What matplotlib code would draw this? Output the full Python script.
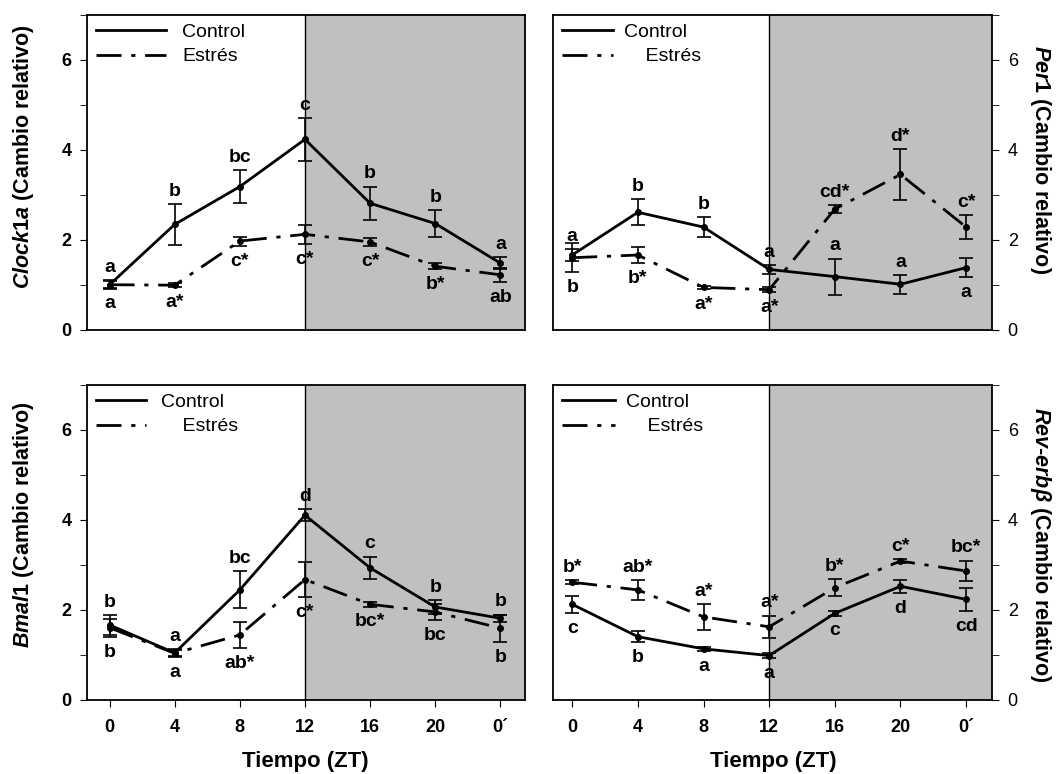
import matplotlib
matplotlib.use("Agg")
import matplotlib.pyplot as plt
from matplotlib.ticker import MultipleLocator
from matplotlib.lines import Line2D

plt.rcParams["font.family"] = ["Liberation Sans", "DejaVu Sans"]
plt.rcParams["mathtext.fontset"] = "custom"
plt.rcParams["mathtext.it"] = "Liberation Sans:italic:bold"
plt.rcParams["mathtext.rm"] = "Liberation Sans:bold"

# ===========================
# Datos
# ===========================
tiempo = [0, 4, 8, 12, 16, 20, 24]
tiempo_lab = ["0", "4", "8", "12", "16", "20", "0´"]

# Clock1a
clock_ctrl = [1.0, 2.34, 3.18, 4.23, 2.81, 2.36, 1.48]
clock_ctrl_err = [0.1, 0.45, 0.36, 0.48, 0.37, 0.3, 0.13]
clock_est = [1.0, 0.99, 1.97, 2.12, 1.95, 1.41, 1.22]
clock_est_err = [0.08, 0.05, 0.1, 0.21, 0.09, 0.07, 0.16]
clock_ctrl_let = ["a", "b", "bc", "c", "b", "b", "a"]
clock_est_let = ["a", "a*", "c*", "c*", "c*", "b*", "ab"]

# Per1
per_ctrl = [1.66, 2.61, 2.28, 1.34, 1.18, 1.01, 1.38]
per_ctrl_err = [0.14, 0.29, 0.22, 0.1, 0.4, 0.21, 0.21]
per_est = [1.6, 1.66, 0.94, 0.89, 2.68, 3.45, 2.28]
per_est_err = [0.32, 0.17, 0.04, 0.05, 0.09, 0.57, 0.26]
per_ctrl_let = ["a", "b", "b", "a", "a", "a", "a"]
per_est_let = ["b", "b*", "a*", "a*", "cd*", "d*", "c*"]

# Bmal1
bmal_ctrl = [1.66, 1.04, 2.44, 4.1, 2.93, 2.06, 1.81]
bmal_ctrl_err = [0.22, 0.08, 0.41, 0.13, 0.25, 0.15, 0.08]
bmal_est = [1.6, 1.03, 1.44, 2.67, 2.12, 1.95, 1.59]
bmal_est_err = [0.2, 0.08, 0.29, 0.38, 0.05, 0.17, 0.3]
bmal_ctrl_let = ["b", "a", "bc", "d", "c", "b", "b"]
bmal_est_let = ["b", "a", "ab*", "c*", "bc*", "bc", "b"]

# Rev-erbβ
rev_ctrl = [2.12, 1.4, 1.13, 0.98, 1.92, 2.52, 2.23]
rev_ctrl_err = [0.19, 0.12, 0.04, 0.05, 0.05, 0.14, 0.26]
rev_est = [2.61, 2.44, 1.84, 1.62, 2.49, 3.08, 2.86]
rev_est_err = [0.04, 0.22, 0.29, 0.25, 0.19, 0.04, 0.23]
rev_ctrl_let = ["c", "b", "a", "a", "c", "d", "cd"]
rev_est_let = ["b*", "ab*", "a*", "a*", "b*", "c*", "bc*"]

# lado de cada letra: 1 arriba, -1 abajo
arriba = [1] * 7
abajo = [-1] * 7
per_ctrl_lado = [1, 1, 1, 1, 1, 1, -1]
per_est_lado = [-1, -1, -1, -1, 1, 1, 1]

paneles = [
    dict(ctrl=clock_ctrl, ce=clock_ctrl_err, est=clock_est, ee=clock_est_err,
         cl=clock_ctrl_let, el=clock_est_let, cs=arriba, es=abajo,
         ylabel=r"$\mathit{Clock1a}$ (Cambio relativo)", derecha=False,
         est_nombre="Estrés", hl=3.6, htp=0.85, ly=0.55),
    dict(ctrl=per_ctrl, ce=per_ctrl_err, est=per_est, ee=per_est_err,
         cl=per_ctrl_let, el=per_est_let, cs=per_ctrl_lado, es=per_est_lado,
         ylabel=r"$\mathit{Per1}$ (Cambio relativo)", derecha=True,
         est_nombre="    Estrés", hl=2.6, htp=0.6, ly=0.54),
    dict(ctrl=bmal_ctrl, ce=bmal_ctrl_err, est=bmal_est, ee=bmal_est_err,
         cl=bmal_ctrl_let, el=bmal_est_let, cs=arriba, es=abajo,
         ylabel=r"$\mathit{Bmal1}$ (Cambio relativo)", derecha=False,
         est_nombre="    Estrés", hl=2.6, htp=0.75, ly=0.555),
    dict(ctrl=rev_ctrl, ce=rev_ctrl_err, est=rev_est, ee=rev_est_err,
         cl=rev_ctrl_let, el=rev_est_let, cs=abajo, es=arriba,
         ylabel=r"$\mathit{Rev}$-$\mathit{erbβ}$ (Cambio relativo)", derecha=True,
         est_nombre="    Estrés", hl=2.7, htp=0.6, ly=0.49),
]

posiciones = [
    [0.082, 0.574, 0.414, 0.407],
    [0.523, 0.574, 0.415, 0.407],
    [0.082, 0.096, 0.414, 0.407],
    [0.523, 0.096, 0.415, 0.407],
]
xlims = [(-1.4, 25.5), (-1.15, 25.6), (-1.4, 25.5), (-1.15, 25.6)]
guion = (9, 3.5, 1.5, 3.5)


def letras(ax, valores, errores, textos, lados):
    for x, v, e, t, s in zip(tiempo, valores, errores, textos, lados):
        if s > 0:
            ax.annotate(t, (x, v + e), xytext=(0, 3), textcoords="offset points",
                        ha="center", va="bottom", fontsize=14, fontweight="bold")
        else:
            ax.annotate(t, (x, v - e), xytext=(0, -5), textcoords="offset points",
                        ha="center", va="top", fontsize=14, fontweight="bold")


fig = plt.figure(figsize=(10.58, 7.74), dpi=100)

for i, p in enumerate(paneles):
    ax = fig.add_axes(posiciones[i])
    ax.axvspan(12, 40, color="#c0c0c0", zorder=0, lw=0)
    ax.axvline(12, color="black", lw=1.0, zorder=1)

    ax.errorbar(tiempo, p["ctrl"], yerr=p["ce"], color="black", lw=2.0,
                marker="o", ms=4, capsize=5, elinewidth=1.2, capthick=1.2,
                zorder=3)
    ax.errorbar(tiempo, p["est"], yerr=p["ee"], color="black", lw=2.0,
                dashes=guion, marker="o", ms=4, capsize=5,
                elinewidth=1.2, capthick=1.2, zorder=3)

    letras(ax, p["ctrl"], p["ce"], p["cl"], p["cs"])
    letras(ax, p["est"], p["ee"], p["el"], p["es"])

    ax.set_xlim(*xlims[i])
    ax.set_ylim(0, 7)
    ax.yaxis.set_major_locator(MultipleLocator(2))
    ax.yaxis.set_minor_locator(MultipleLocator(1))
    for s in ax.spines.values():
        s.set_linewidth(1.3)

    ax.tick_params(axis="y", which="both", direction="out", length=5,
                   labelsize=13, pad=6)
    if p["derecha"]:
        ax.yaxis.tick_right()
        ax.yaxis.set_label_position("right")
        ax.set_ylabel(p["ylabel"], fontsize=15.5, fontweight="bold",
                      rotation=-90, va="bottom")
        ax.yaxis.set_label_coords(1.08, p["ly"])
    else:
        for lab in ax.get_yticklabels():
            lab.set_fontweight("bold")
        ax.set_ylabel(p["ylabel"], fontsize=15.5, fontweight="bold")
        ax.yaxis.set_label_coords(-0.115, p["ly"])

    ax.set_xticks(tiempo)
    if i >= 2:
        ax.set_xticklabels(tiempo_lab, fontsize=13, fontweight="bold")
        ax.tick_params(axis="x", direction="out", length=5, pad=9)
        ax.set_xlabel("Tiempo (ZT)", fontsize=16, fontweight="bold", labelpad=11)
    else:
        ax.tick_params(axis="x", bottom=False, labelbottom=False)

    manijas = [Line2D([], [], color="black", lw=2.0),
               Line2D([], [], color="black", lw=2.0, dashes=guion)]
    ax.legend(manijas, ["Control", p["est_nombre"]], loc="upper left",
              frameon=False, fontsize=14, handlelength=p["hl"],
              handletextpad=p["htp"], labelspacing=0.35, borderaxespad=0.25,
              borderpad=0.2)

fig.savefig("out.png", dpi=100)
